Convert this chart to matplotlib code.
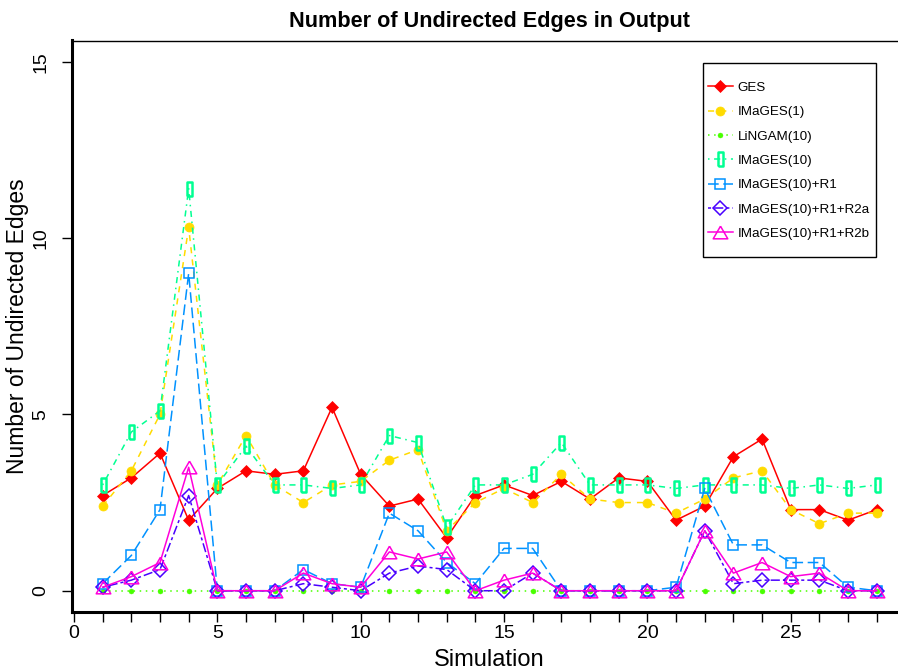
import numpy as np
import matplotlib
matplotlib.use("Agg")
import matplotlib.pyplot as plt
from matplotlib.patches import Rectangle

plt.rcParams['font.family'] = ['Liberation Sans', 'DejaVu Sans']

# Data
sim = list(range(1, 29))
ges = [2.7, 3.2, 3.9, 2.0, 2.9, 3.4, 3.3, 3.4, 5.2, 3.3, 2.4, 2.6, 1.5, 2.7,
       3.0, 2.7, 3.1, 2.6, 3.2, 3.1, 2.0, 2.4, 3.8, 4.3, 2.3, 2.3, 2.0, 2.3]
images1 = [2.4, 3.4, 5.0, 10.3, 3.0, 4.4, 3.0, 2.5, 3.0, 3.1, 3.7, 4.0, 1.7, 2.5,
           2.9, 2.5, 3.3, 2.6, 2.5, 2.5, 2.2, 2.6, 3.2, 3.4, 2.3, 1.9, 2.2, 2.2]
lingam10 = [0, 0, 0, 0, 0, 0, 0, 0, 0, 0, 0, 0, 0, 0,
            0, 0, 0, 0, 0, 0, 0, 0, 0, 0, 0, 0, 0, 0]
images10 = [3.0, 4.5, 5.1, 11.4, 3.0, 4.1, 3.0, 3.0, 2.9, 3.0, 4.4, 4.2, 1.8, 3.0,
            3.0, 3.3, 4.2, 3.0, 3.0, 3.0, 2.9, 3.0, 3.0, 3.0, 2.9, 3.0, 2.9, 3.0]
images10_r1 = [0.2, 1.0, 2.3, 9.0, 0.0, 0.0, 0.0, 0.6, 0.2, 0.1, 2.2, 1.7, 0.8, 0.2,
               1.2, 1.2, 0.0, 0.0, 0.0, 0.0, 0.1, 2.9, 1.3, 1.3, 0.8, 0.8, 0.1, 0.0]
images10_r2a = [0.1, 0.3, 0.6, 2.7, 0.0, 0.0, 0.0, 0.2, 0.1, 0.0, 0.5, 0.7, 0.6, 0.0,
                0.0, 0.5, 0.0, 0.0, 0.0, 0.0, 0.0, 1.7, 0.2, 0.3, 0.3, 0.3, 0.0, 0.0]
images10_r2b = [0.1, 0.4, 0.8, 3.5, 0.0, 0.0, 0.0, 0.5, 0.2, 0.1, 1.1, 0.9, 1.1, 0.0,
                0.3, 0.5, 0.0, 0.0, 0.0, 0.0, 0.0, 1.7, 0.5, 0.8, 0.4, 0.5, 0.0, 0.0]

labels = ['GES', 'IMaGES(1)', 'LiNGAM(10)', 'IMaGES(10)', 'IMaGES(10)+R1',
          'IMaGES(10)+R1+R2a', 'IMaGES(10)+R1+R2b']
series = [ges, images1, lingam10, images10, images10_r1, images10_r2a, images10_r2b]

# R rainbow(7)
colors = ['#FF0000', '#FFDB00', '#49FF00', '#00FF92', '#0092FF', '#4900FF', '#FF00DB']
# R lty 1..6 then 1 again
dashes = ['-', (0, (4, 4)), (0, (1, 3)), (0, (1, 3, 4, 3)), (0, (7, 3)), (0, (2, 2, 6, 2)), '-']

tall_rect = [(-0.18, -0.5), (0.18, -0.5), (0.18, 0.5), (-0.18, 0.5), (-0.18, -0.5)]
tri = [(0, 0.433), (-0.5, -0.433), (0.5, -0.433), (0, 0.433)]
markers = [dict(marker='D', ms=6.5, mfc=colors[0], mew=0.5),
           dict(marker='o', ms=6.5, mfc=colors[1], mew=0.5),
           dict(marker='o', ms=3.6, mfc=colors[2], mew=0.3),
           dict(marker=tall_rect, ms=10, mfc='none', mew=1.8),
           dict(marker='s', ms=7.5, mfc='none', mew=1.1),
           dict(marker='D', ms=7.0, mfc='none', mew=1.1),
           dict(marker=tri, ms=10.5, mfc='none', mew=1.1)]

fig = plt.figure(figsize=(8.98, 6.71), dpi=100)
ax = fig.add_axes([71.7 / 898, 1 - 611.9 / 671, 836 / 898, 571.4 / 671])

for ys, lab, c, ls, mk in zip(series, labels, colors, dashes, markers):
    ax.plot(sim, ys, color=c, linestyle=ls, lw=1.1, mec=c, label=lab, **mk)

ax.set_xlim(-0.08, 29.08)
ax.set_ylim(-0.6, 15.6)
ax.set_xticks(range(0, 29))
ax.set_xticklabels([str(i) if i % 5 == 0 else '' for i in range(0, 29)], fontsize=14)
ax.set_yticks([0, 5, 10, 15])
ax.set_yticklabels(['0', '5', '10', '15'], fontsize=14, rotation=90, va='center')
ax.tick_params(axis='both', direction='out', length=7.2, width=1.0)
ax.tick_params(axis='y', pad=9)
ax.tick_params(axis='x', pad=2)
ax.spines['left'].set_linewidth(2.2)
ax.spines['bottom'].set_linewidth(2.2)
ax.spines['top'].set_linewidth(1.0)
ax.spines['right'].set_linewidth(1.0)

ax.set_xlabel('Simulation', fontsize=17, labelpad=5)
ax.set_ylabel('Number of Undirected Edges', fontsize=16.5, labelpad=2)
ax.set_title('Number of Undirected Edges in Output', fontsize=15.6, fontweight='bold', pad=10)

# legend box drawn like R's legend
fig.patches.append(Rectangle((703 / 898, 1 - 257 / 671), 173 / 898, 194 / 671,
                             transform=fig.transFigure, fill=False, ec='black', lw=1.0))
ax.legend(loc='upper left', bbox_to_anchor=(705 / 898, 1 - 79 / 671),
          bbox_transform=fig.transFigure, frameon=False, fontsize=9.6,
          numpoints=1, handlelength=1.9, handletextpad=0.35, labelspacing=0.9,
          borderpad=0.2, borderaxespad=0)

fig.savefig('out.png', dpi=100)
